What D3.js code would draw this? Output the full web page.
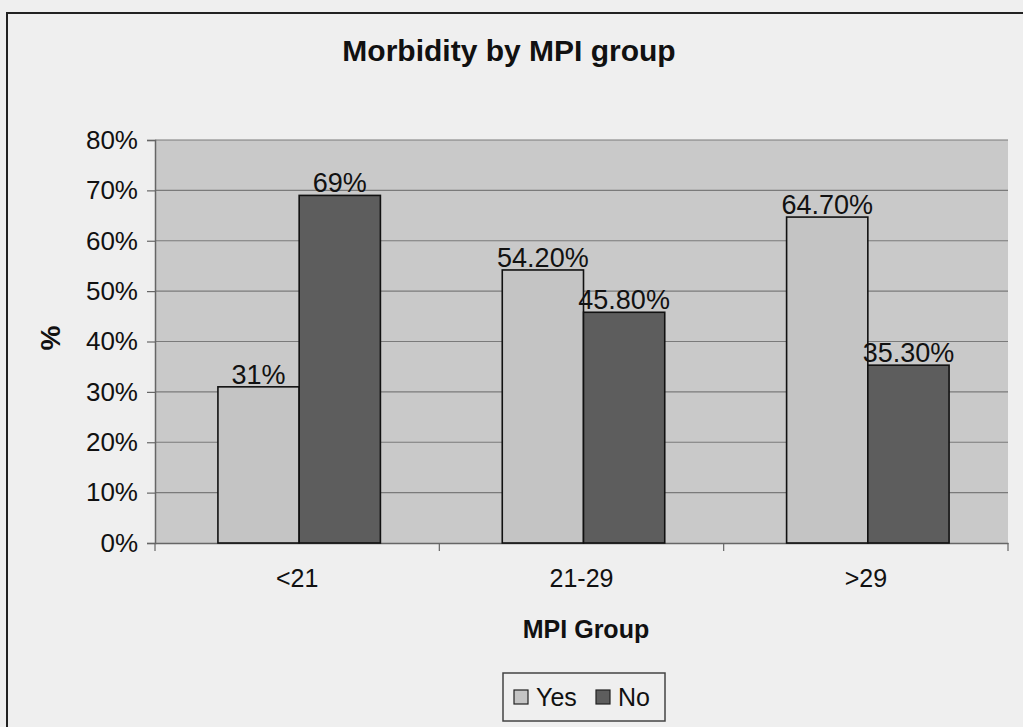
<!DOCTYPE html>
<html>
<head>
<meta charset="utf-8">
<script src="https://cdn.jsdelivr.net/npm/d3@7/dist/d3.min.js"></script>
<style>
  html, body { margin: 0; padding: 0; background: #efefef; }
  svg { display: block; }
  text { font-family: "Liberation Sans", Arial, sans-serif; fill: #111; }
</style>
</head>
<body>
<svg id="chart" width="1023" height="727"></svg>
<script>
// Morbidity share per MPI group
const groups = ["<21", "21-29", ">29"];
const seriesNames = ["Yes", "No"];
const yesValues = [31, 54.2, 64.7];
const noValues = [69, 45.8, 35.3];
const valueLabels = [["31%", "69%"], ["54.20%", "45.80%"], ["64.70%", "35.30%"]];
const yTicks = [0, 10, 20, 30, 40, 50, 60, 70, 80];
const seriesColors = ["#c4c4c4", "#5d5d5d"];

const svg = d3.select("#chart");
const W = 1023, H = 727;
const plot = { left: 155, right: 1008, top: 140, bottom: 543 };

// outer chart frame
svg.append("rect").attr("x", 0).attr("y", 0).attr("width", W).attr("height", H).attr("fill", "#efefef");
svg.append("rect")
  .attr("x", 7).attr("y", 13).attr("width", W + 10).attr("height", H - 12)
  .attr("fill", "none").attr("stroke", "#222").attr("stroke-width", 2);

const x0 = d3.scaleBand().domain(groups).range([plot.left, plot.right]).paddingInner(0).paddingOuter(0);
const x1 = d3.scaleBand().domain(seriesNames).range([0, x0.bandwidth()]).paddingOuter(0.75).paddingInner(0);
const y = d3.scaleLinear().domain([0, 80]).range([plot.bottom, plot.top]);

// plot background
svg.append("rect")
  .attr("x", plot.left).attr("y", plot.top)
  .attr("width", plot.right - plot.left).attr("height", plot.bottom - plot.top)
  .attr("fill", "#c9c9c9");

// gridlines
svg.append("g").selectAll("line").data(yTicks.filter(d => d > 0)).join("line")
  .attr("x1", plot.left).attr("x2", plot.right)
  .attr("y1", d => y(d)).attr("y2", d => y(d))
  .attr("stroke", "#7a7a7a").attr("stroke-width", 1.2);

// y axis
const yAxis = svg.append("g")
  .attr("transform", `translate(${plot.left},0)`)
  .call(d3.axisLeft(y).tickValues(yTicks).tickFormat(d => d + "%").tickSize(8).tickPadding(9));
yAxis.select(".domain").attr("stroke", "#666").attr("stroke-width", 1.5);
yAxis.selectAll(".tick line").attr("stroke", "#666").attr("stroke-width", 1.2);
yAxis.selectAll(".tick text")
  .attr("font-size", 26).attr("fill", "#111")
  .attr("font-family", "Liberation Sans, Arial, sans-serif");

// x axis
const xAxis = svg.append("g")
  .attr("transform", `translate(0,${plot.bottom})`)
  .call(d3.axisBottom(x0).tickSize(0).tickPadding(26));
xAxis.select(".domain").attr("stroke", "#666").attr("stroke-width", 1.5);
xAxis.selectAll(".tick text")
  .attr("font-size", 25).attr("fill", "#111")
  .attr("font-family", "Liberation Sans, Arial, sans-serif");
// category separator ticks
const bounds = groups.map(g => x0(g)).concat([plot.right]);
svg.append("g").selectAll("line").data(bounds).join("line")
  .attr("x1", d => d).attr("x2", d => d)
  .attr("y1", plot.bottom).attr("y2", plot.bottom + 8)
  .attr("stroke", "#666").attr("stroke-width", 1.2);

// bars
const rows = groups.map((g, i) => ({ group: g, values: [yesValues[i], noValues[i]], labels: valueLabels[i] }));
const gGroups = svg.append("g").selectAll("g").data(rows).join("g")
  .attr("transform", d => `translate(${x0(d.group)},0)`);

gGroups.selectAll("rect").data(d => d.values.map((v, j) => ({ s: seriesNames[j], v, j }))).join("rect")
  .attr("x", d => x1(d.s) + 2)
  .attr("y", d => y(d.v))
  .attr("width", x1.bandwidth())
  .attr("height", d => y(0) - y(d.v))
  .attr("fill", d => seriesColors[d.j])
  .attr("stroke", "#111").attr("stroke-width", 1.6);

gGroups.selectAll("text.val").data(d => d.values.map((v, j) => ({ s: seriesNames[j], v, label: d.labels[j] }))).join("text")
  .attr("class", "val")
  .attr("x", d => x1(d.s) + 2 + x1.bandwidth() / 2)
  .attr("y", d => y(d.v) - 3)
  .attr("text-anchor", "middle")
  .attr("font-size", 27)
  .text(d => d.label);

// title
svg.append("text")
  .attr("x", 509).attr("y", 61)
  .attr("text-anchor", "middle")
  .attr("font-size", 30).attr("font-weight", "bold")
  .text("Morbidity by MPI group");

// axis titles
svg.append("text")
  .attr("transform", "translate(60,338) rotate(-90)")
  .attr("text-anchor", "middle")
  .attr("font-size", 28).attr("font-weight", "bold")
  .text("%");

svg.append("text")
  .attr("x", 586).attr("y", 638)
  .attr("text-anchor", "middle")
  .attr("font-size", 25).attr("font-weight", "bold")
  .text("MPI Group");

// legend
const legend = svg.append("g");
legend.append("rect")
  .attr("x", 503).attr("y", 673).attr("width", 162).attr("height", 48)
  .attr("fill", "#efefef").attr("stroke", "#444").attr("stroke-width", 1.5);
const legendX = [514, 596];
seriesNames.forEach((name, i) => {
  legend.append("rect")
    .attr("x", legendX[i]).attr("y", 690).attr("width", 14).attr("height", 14)
    .attr("fill", seriesColors[i]).attr("stroke", "#222").attr("stroke-width", 1.2);
  legend.append("text")
    .attr("x", legendX[i] + 22).attr("y", 706)
    .attr("font-size", 25)
    .text(name);
});
</script>
</body>
</html>
